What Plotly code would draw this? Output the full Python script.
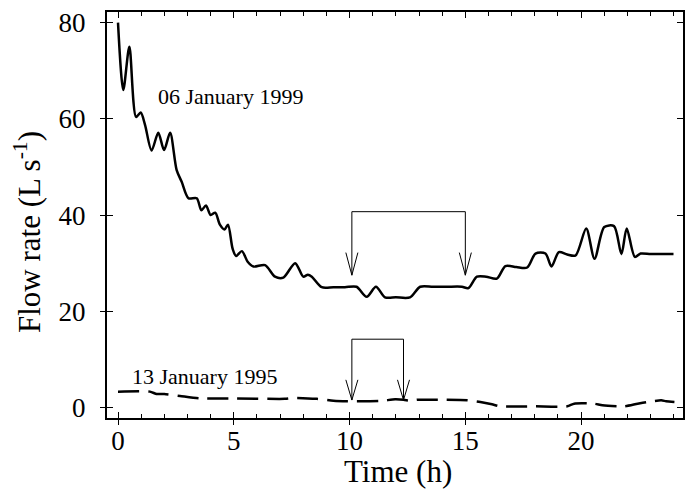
import plotly.graph_objects as go

# Flow rate, 06 January 1999 (solid curve)
t_1999 = [0.0, 0.23, 0.49, 0.78, 0.98, 1.17, 1.45, 1.74, 1.99, 2.25, 2.53, 2.75, 3.04, 3.4,
          3.6, 3.8, 4.0, 4.2, 4.4, 4.6, 4.75, 4.95, 5.1, 5.35, 5.6, 5.85, 6.35, 6.78, 7.14,
          7.65, 8.0, 8.2, 8.37, 8.8, 9.3, 9.8, 10.3, 10.74, 11.14, 11.53, 12.0, 12.61, 13.05,
          13.6, 14.2, 14.85, 15.13, 15.5, 15.9, 16.36, 16.73, 17.2, 17.67, 18.03, 18.46,
          18.72, 19.04, 19.4, 19.76, 20.22, 20.58, 21.0, 21.42, 21.74, 21.97, 22.32, 22.57,
          23.0, 23.5, 23.99]
q_1999 = [80.0, 66.0, 75.0, 60.4, 61.3, 58.7, 53.4, 57.1, 53.5, 57.1, 49.4, 46.9, 43.5, 43.5,
          41.0, 42.0, 40.0, 40.5, 38.0, 37.0, 38.0, 33.0, 31.5, 32.5, 30.3, 29.3, 29.6, 27.2, 27.0,
          30.0, 27.2, 27.6, 27.2, 25.0, 25.0, 25.0, 25.1, 23.0, 25.1, 22.9, 22.9, 22.9, 25.1,
          25.1, 25.1, 25.1, 24.8, 27.2, 27.2, 26.8, 29.4, 29.2, 29.1, 32.0, 32.0,
          29.3, 32.3, 31.8, 31.6, 37.2, 30.9, 37.5, 37.7, 31.9, 37.2, 31.3, 32.0,
          31.9, 31.9, 31.9]

# Flow rate, 13 January 1995 (dashed curve)
t_1995 = [0.0, 1.38, 1.67, 2.0, 2.68, 3.54, 5.0, 7.2, 7.56, 8.58, 9.3, 9.88, 11.3, 11.97,
          12.33, 12.69, 12.9, 14.0, 15.08, 15.65, 16.15, 16.5, 18.0, 19.4, 19.7, 20.56,
          20.92, 21.86, 22.44, 22.88, 23.46, 23.67, 24.03]
q_1995 = [3.3, 3.3, 2.8, 2.8, 2.4, 1.9, 1.9, 1.8, 2.0, 1.8, 1.4, 1.3, 1.35, 1.7,
          1.6, 1.35, 1.6, 1.6, 1.5, 1.15, 0.67, 0.25, 0.25, 0.25, 0.8, 0.8,
          0.45, 0.25, 0.8, 1.15, 1.5, 1.3, 1.15]

# Brackets marking the intervals: (start, end, bar level, arrow tip level)
bracket_1999 = (10.1, 15.0, 40.7, 27.5)
bracket_1995 = (10.1, 12.33, 14.2, 1.55)

x_ticks = [0, 5, 10, 15, 20]
y_ticks = [0, 20, 40, 60, 80]
x_range = [-0.475, 24.4]
y_range = [-2.18, 82.2]

FONT = "Liberation Serif"

fig = go.Figure()

fig.add_trace(go.Scatter(x=t_1999, y=q_1999, mode="lines",
                         line=dict(color="black", width=2.5, shape="spline", smoothing=0.8),
                         showlegend=False, hoverinfo="skip"))
fig.add_trace(go.Scatter(x=t_1995, y=q_1995, mode="lines",
                         line=dict(color="black", width=2.5, dash="21px,9px",
                                   shape="spline", smoothing=0.6),
                         showlegend=False, hoverinfo="skip"))


def add_bracket(fig, b, head_h):
    x0, x1, top, tip = b
    fig.add_trace(go.Scatter(x=[x0, x0, x1, x1], y=[tip, top, top, tip], mode="lines",
                             line=dict(color="black", width=1),
                             showlegend=False, hoverinfo="skip"))
    for xc in (x0, x1):
        fig.add_trace(go.Scatter(x=[xc - 0.26, xc, xc + 0.26],
                                 y=[tip + head_h, tip, tip + head_h], mode="lines",
                                 line=dict(color="black", width=1),
                                 showlegend=False, hoverinfo="skip"))


add_bracket(fig, bracket_1999, 4.7)
add_bracket(fig, bracket_1995, 4.2)

# overlay axes carrying the inward and mirrored tick marks
fig.add_trace(go.Scatter(x=[None], y=[None], xaxis="x2", yaxis="y2",
                         showlegend=False, hoverinfo="skip"))

fig.add_annotation(x=1.62, y=64.7, text="06 January 1999", showarrow=False,
                   xanchor="left", yanchor="middle",
                   font=dict(family=FONT, size=22, color="black"))
fig.add_annotation(x=0.5, y=6.4, text="13 January 1995", showarrow=False,
                   xanchor="left", yanchor="middle",
                   font=dict(family=FONT, size=22, color="black"))

# axis titles
fig.add_annotation(xref="paper", yref="paper", x=0.505, y=-0.131, text="Time (h)",
                   showarrow=False, xanchor="center", yanchor="middle",
                   font=dict(family=FONT, size=31, color="black"))
fig.add_annotation(xref="paper", yref="paper", x=-0.139, y=0.458,
                   text="Flow rate (L s<sup>-1</sup>)", textangle=-90,
                   showarrow=False, xanchor="center", yanchor="middle",
                   font=dict(family=FONT, size=31, color="black"))

fig.update_layout(
    width=686, height=491,
    margin=dict(l=107, r=3, t=12, b=73, autoexpand=False),
    paper_bgcolor="white", plot_bgcolor="white",
    font=dict(family=FONT, color="black"),
    xaxis=dict(range=x_range, tickvals=x_ticks, ticks="outside", ticklen=5,
               tickwidth=1, tickcolor="black", showline=True, linecolor="black",
               linewidth=2, mirror=True, showgrid=False, zeroline=False,
               automargin=False, ticklabelstandoff=-7,
               tickfont=dict(family=FONT, size=27)),
    yaxis=dict(range=y_range, tickvals=y_ticks, ticks="outside", ticklen=5,
               tickwidth=1, tickcolor="black", showline=True, linecolor="black",
               linewidth=2, mirror=True, showgrid=False, zeroline=False,
               automargin=False, ticklabelstandoff=9,
               tickfont=dict(family=FONT, size=27)),
    xaxis2=dict(range=x_range, overlaying="x", anchor="y2", side="bottom",
                tickvals=x_ticks, ticks="inside", ticklen=6, tickwidth=1,
                tickcolor="black", mirror="allticks", showline=False,
                showticklabels=False, showgrid=False, zeroline=False, automargin=False,
                minor=dict(dtick=1, tick0=0, ticks="inside", ticklen=4,
                           tickcolor="black", tickwidth=1, showgrid=False)),
    yaxis2=dict(range=y_range, overlaying="y", anchor="x2", side="left",
                tickvals=y_ticks, ticks="inside", ticklen=6, tickwidth=1,
                tickcolor="black", mirror="allticks", showline=False,
                showticklabels=False, showgrid=False, zeroline=False, automargin=False),
)

fig.write_html("out.html")
